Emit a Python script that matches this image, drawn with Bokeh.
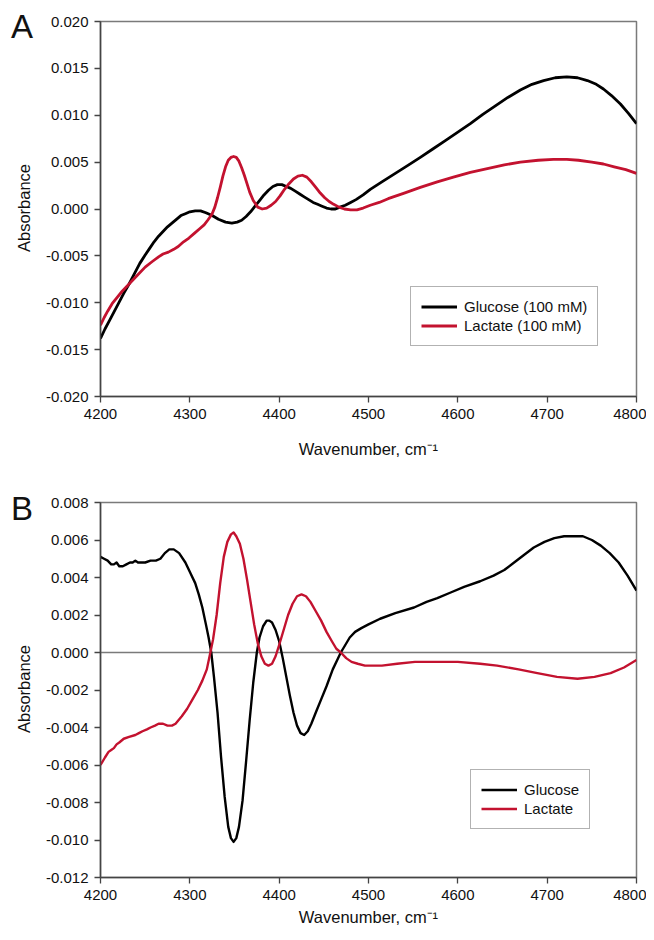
from bokeh.plotting import figure
from bokeh.layouts import column, row
from bokeh.models import (Range1d, FixedTicker, PrintfTickFormatter, Legend,
                          LegendItem, Span, Div)
from bokeh.embed import file_html
from bokeh.resources import INLINE

FONT = "Liberation Sans"
BLACK = "#000000"
RED = "#c3122f"

# ---------------- data ----------------
x_ticks = [4200, 4300, 4400, 4500, 4600, 4700, 4800]
yA_ticks = [-0.020, -0.015, -0.010, -0.005, 0.000, 0.005, 0.010, 0.015, 0.020]
yB_ticks = [-0.012, -0.010, -0.008, -0.006, -0.004, -0.002, 0.000, 0.002, 0.004, 0.006, 0.008]

a_glucose_wn = [4200, 4205, 4210, 4215, 4220, 4226, 4232, 4238, 4244, 4250, 4255, 4260, 4265,
                4270, 4275, 4280, 4285, 4290, 4295, 4300, 4306, 4312, 4318, 4325, 4332, 4340,
                4347, 4353, 4358, 4363, 4368, 4373, 4378, 4383, 4388, 4393, 4398, 4403, 4408,
                4413, 4418, 4423, 4428, 4433, 4438, 4443, 4448, 4453, 4458, 4463, 4468, 4474,
                4480, 4486, 4494, 4502, 4515, 4530, 4545, 4558, 4572, 4586, 4600, 4614, 4628,
                4642, 4656, 4670, 4683, 4696, 4709, 4722, 4734, 4745, 4755, 4763, 4772, 4782,
                4791, 4800]
a_glucose_abs = [-0.0138, -0.0128, -0.0119, -0.0110, -0.0101, -0.0090, -0.0080, -0.0069, -0.0058,
                 -0.0049, -0.0042, -0.0035, -0.0029, -0.0024, -0.0019, -0.0015, -0.0011, -0.0007,
                 -0.0005, -0.0003, -0.0002, -0.0002, -0.0004, -0.0007, -0.0011, -0.0014, -0.0015,
                 -0.0014, -0.0012, -0.0008, -0.0003, 0.0003, 0.0009, 0.0015, 0.0020, 0.0024,
                 0.0026, 0.0026, 0.0024, 0.0022, 0.0019, 0.0016, 0.0013, 0.0010, 0.0007, 0.0005,
                 0.0003, 0.0001, 0.0000, 0.0000, 0.0002, 0.0004, 0.0007, 0.0010, 0.0015, 0.0021,
                 0.0029, 0.0038, 0.0047, 0.0055, 0.0064, 0.0073, 0.0082, 0.0091, 0.0101, 0.0110,
                 0.0119, 0.0127, 0.0133, 0.0137, 0.0140, 0.0141, 0.0140, 0.0137, 0.0133, 0.0128,
                 0.0121, 0.0112, 0.0102, 0.0091]

a_lactate_wn = [4200, 4204, 4208, 4213, 4218, 4224, 4232, 4241, 4250, 4258, 4265, 4270, 4276,
                4282, 4287, 4293, 4299, 4305, 4311, 4316, 4320, 4323, 4325, 4328, 4331, 4334,
                4337, 4340, 4343, 4346, 4349, 4352, 4355, 4358, 4361, 4364, 4367, 4371, 4376,
                4381, 4386, 4391, 4396, 4401, 4406, 4411, 4416, 4421, 4426, 4431, 4436, 4441,
                4446, 4451, 4456, 4461, 4467, 4473, 4480, 4487, 4494, 4502, 4512, 4522, 4540,
                4558, 4577, 4595, 4614, 4633, 4652, 4670, 4690, 4707, 4722, 4735, 4750, 4763,
                4775, 4788, 4800]
a_lactate_abs = [-0.0124, -0.0116, -0.0109, -0.0101, -0.0095, -0.0088, -0.0080, -0.0071, -0.0062,
                 -0.0056, -0.0051, -0.0048, -0.0046, -0.0043, -0.0040, -0.0035, -0.0031, -0.0026,
                 -0.0021, -0.0017, -0.0012, -0.0008, -0.0005, 0.0002, 0.0012, 0.0023, 0.0035,
                 0.0045, 0.0052, 0.0055, 0.0056, 0.0055, 0.0051, 0.0044, 0.0036, 0.0027, 0.0018,
                 0.0009, 0.0002, 0.0000, 0.0001, 0.0004, 0.0008, 0.0014, 0.0021, 0.0027, 0.0032,
                 0.0035, 0.0036, 0.0034, 0.0029, 0.0023, 0.0017, 0.0012, 0.0008, 0.0005, 0.0002,
                 0.0000, -0.0001, -0.0001, 0.0001, 0.0004, 0.0007, 0.0011, 0.0017, 0.0023, 0.0029,
                 0.0034, 0.0039, 0.0043, 0.0047, 0.0050, 0.0052, 0.0053, 0.0053, 0.0052, 0.0050,
                 0.0048, 0.0045, 0.0042, 0.0038]

b_glucose_wn = [4200, 4204, 4208, 4212, 4215, 4218, 4221, 4225, 4229, 4233, 4236, 4239, 4242,
                4246, 4250, 4256, 4262, 4267, 4272, 4277, 4282, 4288, 4295, 4301, 4306, 4310,
                4314, 4318, 4321, 4324, 4327, 4331, 4335, 4339, 4343, 4346, 4349, 4352, 4355,
                4359, 4363, 4367, 4371, 4375, 4378, 4382, 4386, 4389, 4392, 4396, 4400, 4404,
                4408, 4412, 4416, 4420, 4424, 4428, 4432, 4436, 4441, 4447, 4453, 4460, 4465,
                4469, 4474, 4479, 4485, 4492, 4500, 4513, 4530, 4551, 4565, 4577, 4592, 4607,
                4625, 4640, 4652, 4663, 4674, 4685, 4697, 4708, 4719, 4730, 4740, 4750, 4760,
                4770, 4780, 4790, 4800]
b_glucose_abs = [0.0051, 0.0050, 0.0049, 0.0047, 0.0047, 0.0048, 0.0046, 0.0046, 0.0047, 0.0048,
                 0.0048, 0.0049, 0.0048, 0.0048, 0.0048, 0.0049, 0.0049, 0.0050, 0.0053, 0.0055,
                 0.0055, 0.0053, 0.0048, 0.0042, 0.0037, 0.0031, 0.0024, 0.0015, 0.0008, 0.0000,
                 -0.0013, -0.0032, -0.0056, -0.0077, -0.0093, -0.0099, -0.0101, -0.0099, -0.0093,
                 -0.0079, -0.0058, -0.0036, -0.0016, 0.0000, 0.0008, 0.0014, 0.0017, 0.0017,
                 0.0016, 0.0012, 0.0006, -0.0003, -0.0013, -0.0023, -0.0032, -0.0039, -0.0043,
                 -0.0044, -0.0042, -0.0038, -0.0032, -0.0025, -0.0018, -0.0009, -0.0004, 0.0000,
                 0.0004, 0.0008, 0.0011, 0.0013, 0.0015, 0.0018, 0.0021, 0.0024, 0.0027, 0.0029,
                 0.0032, 0.0035, 0.0038, 0.0041, 0.0044, 0.0048, 0.0052, 0.0056, 0.0059, 0.0061,
                 0.0062, 0.0062, 0.0062, 0.0060, 0.0057, 0.0053, 0.0048, 0.0041, 0.0033]

b_lactate_wn = [4200, 4205, 4209, 4212, 4215, 4218, 4221, 4226, 4232, 4239, 4243, 4247, 4252,
                4256, 4261, 4265, 4270, 4275, 4280, 4284, 4291, 4297, 4303, 4309, 4314, 4319,
                4323, 4326, 4330, 4334, 4338, 4342, 4346, 4349, 4352, 4356, 4360, 4364, 4368,
                4372, 4376, 4380, 4384, 4388, 4392, 4396, 4400, 4405, 4410, 4415, 4420, 4425,
                4430, 4435, 4441, 4447, 4453, 4459, 4464, 4469, 4475, 4481, 4488, 4496, 4515,
                4532, 4552, 4573, 4600, 4625, 4644, 4668, 4689, 4711, 4734, 4753, 4771, 4786,
                4800]
b_lactate_abs = [-0.0060, -0.0056, -0.0053, -0.0052, -0.0051, -0.0049, -0.0048, -0.0046, -0.0045,
                 -0.0044, -0.0043, -0.0042, -0.0041, -0.0040, -0.0039, -0.0038, -0.0038, -0.0039,
                 -0.0039, -0.0038, -0.0034, -0.0030, -0.0025, -0.0020, -0.0015, -0.0009, 0.0000,
                 0.0007, 0.0020, 0.0037, 0.0051, 0.0059, 0.0063, 0.0064, 0.0062, 0.0058, 0.0050,
                 0.0039, 0.0027, 0.0015, 0.0005, -0.0002, -0.0006, -0.0007, -0.0006, -0.0002,
                 0.0004, 0.0012, 0.0020, 0.0026, 0.0030, 0.0031, 0.0030, 0.0027, 0.0022, 0.0017,
                 0.0011, 0.0006, 0.0002, 0.0000, -0.0003, -0.0005, -0.0006, -0.0007, -0.0007,
                 -0.0006, -0.0005, -0.0005, -0.0005, -0.0006, -0.0007, -0.0009, -0.0011, -0.0013,
                 -0.0014, -0.0013, -0.0011, -0.0008, -0.0004]

labels_A = ["Glucose (100 mM)", "Lactate (100 mM)"]
labels_B = ["Glucose", "Lactate"]

SIDE_W = 38


def side_strip(letter, height, letter_top, title_center):
    """Narrow strip (HTML) with the panel letter and the vertical y-axis title."""
    html = (
        f'<div style="position:relative;width:{SIDE_W}px;height:{height}px;'
        f"font-family:'{FONT}',Arial,sans-serif;color:#111111;\">"
        f'<div style="position:absolute;left:11px;top:{letter_top}px;font-size:33px;'
        f'line-height:40px;">{letter}</div>'
        f'<div style="position:absolute;left:24px;top:{title_center}px;width:0;height:0;">'
        f'<div style="position:absolute;left:0;top:0;transform:translate(-50%,-50%) '
        f'rotate(-90deg);white-space:nowrap;font-size:16.5px;line-height:20px;">Absorbance</div>'
        f'</div></div>'
    )
    return Div(text=html, width=SIDE_W, height=height, margin=(0, 0, 0, 0))


def make_panel(yticks, series, labels, height, border_top, border_bottom,
               title_standoff, legend_loc, line_w):
    p = figure(width=646 - SIDE_W, height=height, output_backend="svg", toolbar_location=None,
               x_range=Range1d(4200, 4800), y_range=Range1d(yticks[0], yticks[-1]),
               min_border_left=100 - SIDE_W, min_border_right=10, min_border_top=border_top,
               min_border_bottom=border_bottom)
    p.xgrid.visible = False
    p.ygrid.visible = False
    p.outline_line_color = "#7a7a7a"
    p.outline_line_width = 1.5
    p.background_fill_color = "white"
    p.border_fill_color = "white"

    for ax in (p.xaxis[0], p.yaxis[0]):
        ax.axis_line_color = "#444444"
        ax.axis_line_width = 1.5
        ax.major_tick_line_color = "#444444"
        ax.major_tick_line_width = 1.3
        ax.major_tick_in = 0
        ax.major_tick_out = 6
        ax.minor_tick_line_color = None
        ax.major_label_text_font = FONT
        ax.major_label_text_font_size = "15px"
        ax.major_label_text_color = "#111111"
        ax.major_label_standoff = 6
        ax.axis_label_text_font = FONT
        ax.axis_label_text_font_size = "16.5px"
        ax.axis_label_text_font_style = "normal"
        ax.axis_label_text_color = "#111111"

    p.xaxis.ticker = FixedTicker(ticks=x_ticks)
    p.yaxis.ticker = FixedTicker(ticks=yticks)
    p.yaxis.formatter = PrintfTickFormatter(format="%.3f")
    p.xaxis.axis_label = "Wavenumber, cm\u207b\u00b9"
    p.xaxis.axis_label_standoff = title_standoff

    renderers = []
    for (wn, ab), col in zip(series, (BLACK, RED)):
        r = p.line(wn, ab, line_color=col, line_width=line_w, line_join="round")
        renderers.append(r)

    legend = Legend(items=[LegendItem(label=l, renderers=[r]) for l, r in zip(labels, renderers)],
                    location=legend_loc, orientation="vertical",
                    label_text_font=FONT, label_text_font_size="15px",
                    label_text_color="#111111",
                    glyph_width=36, glyph_height=19, label_height=19, label_standoff=7,
                    spacing=0, padding=10, margin=0,
                    border_line_color="#666666", border_line_width=1.5,
                    background_fill_color="white", background_fill_alpha=1.0)
    p.add_layout(legend)
    return p


pA = make_panel(yA_ticks,
                [(a_glucose_wn, a_glucose_abs), (a_lactate_wn, a_lactate_abs)],
                labels_A, 470, 21, 74, 18, (310, 50), 2.8)
sA = side_strip("A", 470, 7, 208)

pB = make_panel(yB_ticks,
                [(b_glucose_wn, b_glucose_abs), (b_lactate_wn, b_lactate_abs)],
                labels_B, 462, 32, 55, 5, (370, 48), 2.4)
pB.add_layout(Span(location=0, dimension="width", line_color="#7a7a7a", line_width=1.5,
                   level="underlay"))
sB = side_strip("B", 462, 19, 219)

layout = column(row(sA, pA, spacing=0), row(sB, pB, spacing=0), spacing=0)

open("out.html", "w").write(file_html(layout, INLINE))
